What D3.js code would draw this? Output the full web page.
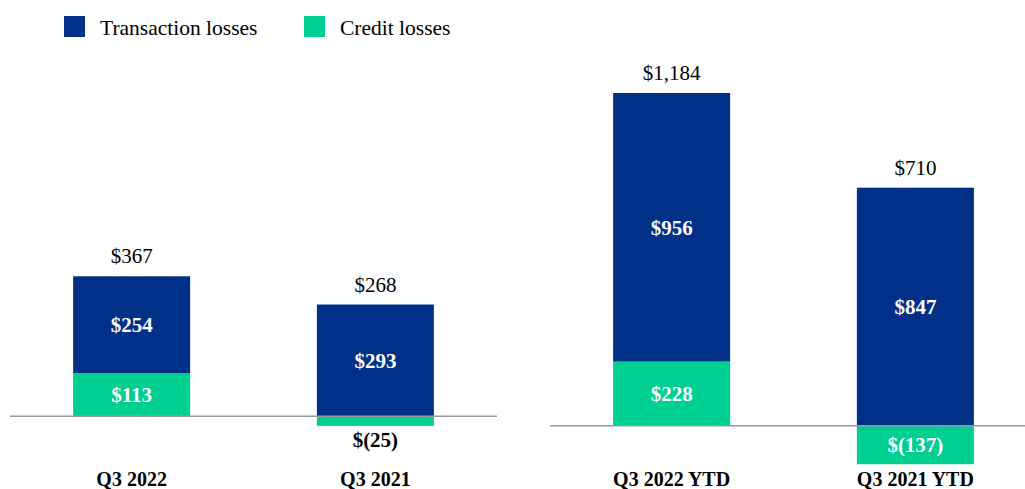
<!DOCTYPE html>
<html>
<head>
<meta charset="utf-8">
<script src="https://cdn.jsdelivr.net/npm/d3@7"></script>
<style>
  body { margin: 0; background: #fff; }
  svg { display: block; font-family: "Liberation Serif", "Times New Roman", serif; }
</style>
</head>
<body>
<svg id="chart"></svg>
<script>
// quarter panel and year-to-date panel
var quarterLabels = ["Q3 2022", "Q3 2021"];
var ytdLabels = ["Q3 2022 YTD", "Q3 2021 YTD"];
var quarterTransaction = [254, 293];
var quarterCredit = [113, -25];
var quarterTotal = [367, 268];
var ytdTransaction = [956, 847];
var ytdCredit = [228, -137];
var ytdTotal = [1184, 710];

var seriesNames = ["Transaction losses", "Credit losses"];
var blue = "#003087", green = "#00cf92";

var width = 1025, height = 489;
var svg = d3.select("#chart").attr("width", width).attr("height", height);

function money(v) {
  return v < 0 ? "$(" + d3.format(",")(-v) + ")" : "$" + d3.format(",")(v);
}

function panel(labels, transaction, credit, total, xRange, lineRange, y) {
  var rows = labels.map(function(d, i) {
    return { period: d, credit: credit[i], transaction: transaction[i], total: total[i] };
  });

  var x = d3.scaleBand()
      .domain(labels)
      .range(xRange)
      .paddingInner(0.52)
      .paddingOuter(0.3);

  var stack = d3.stack()
      .keys(["credit", "transaction"])
      .offset(d3.stackOffsetDiverging)(rows);

  var colors = { credit: green, transaction: blue };
  var g = svg.append("g");

  stack.forEach(function(layer) {
    g.selectAll(null)
      .data(layer)
      .enter().append("rect")
      .attr("x", function(d) { return x(d.data.period); })
      .attr("width", x.bandwidth())
      .attr("y", function(d) { return y(d[1]); })
      .attr("height", function(d) { return y(d[0]) - y(d[1]); })
      .attr("fill", colors[layer.key]);

    g.selectAll(null)
      .data(layer)
      .enter().append("text")
      .attr("x", function(d) { return x(d.data.period) + x.bandwidth() / 2; })
      .attr("y", function(d) {
        var h = y(d[0]) - y(d[1]);
        if (h < 20) return y(d[0]) + 14;
        return (y(d[0]) + y(d[1])) / 2;
      })
      .attr("dy", "0.35em")
      .attr("text-anchor", "middle")
      .attr("font-weight", "bold")
      .attr("font-size", "21px")
      .attr("fill", function(d) { return (y(d[0]) - y(d[1])) < 20 ? "#000" : "#fff"; })
      .text(function(d) { return money(d.data[layer.key]); });
  });

  // totals above the bars
  g.selectAll(null)
    .data(rows)
    .enter().append("text")
    .attr("x", function(d) { return x(d.period) + x.bandwidth() / 2; })
    .attr("y", function(d) { return y(Math.max(d.credit, 0) + d.transaction) - 13; })
    .attr("text-anchor", "middle")
    .attr("font-size", "21px")
    .attr("fill", "#000")
    .text(function(d) { return money(d.total); });

  // zero line
  g.append("line")
    .attr("x1", lineRange[0]).attr("x2", lineRange[1])
    .attr("y1", y(0)).attr("y2", y(0))
    .attr("stroke", "#999")
    .attr("stroke-width", 1.5);

  // category labels
  var axis = g.append("g")
      .attr("transform", "translate(0,486)")
      .call(d3.axisBottom(x).tickSize(0).tickPadding(0));
  axis.select(".domain").remove();
  axis.selectAll("text")
      .attr("dy", 0)
      .attr("font-family", "Liberation Serif, Times New Roman, serif")
      .attr("font-size", "20px")
      .attr("font-weight", "bold")
      .attr("fill", "#000");
}

var yQuarter = d3.scaleLinear().domain([0, 400]).range([416.3, 416.3 - 400 * 0.3815]);
var yYtd = d3.scaleLinear().domain([0, 1200]).range([425.7, 425.7 - 1200 * 0.281]);

panel(quarterLabels, quarterTransaction, quarterCredit, quarterTotal, [0, 507], [10, 497], yQuarter);
panel(ytdLabels, ytdTransaction, ytdCredit, ytdTotal, [540, 1047], [550, 1025], yYtd);

// legend
var legend = svg.append("g");
var legendX = [64, 304];
seriesNames.forEach(function(name, i) {
  legend.append("rect")
    .attr("x", legendX[i]).attr("y", 16)
    .attr("width", 21).attr("height", 21)
    .attr("fill", i === 0 ? blue : green);
  legend.append("text")
    .attr("x", legendX[i] + 36).attr("y", 34.5)
    .attr("font-size", "21.5px")
    .attr("fill", "#000")
    .text(name);
});
</script>
</body>
</html>
